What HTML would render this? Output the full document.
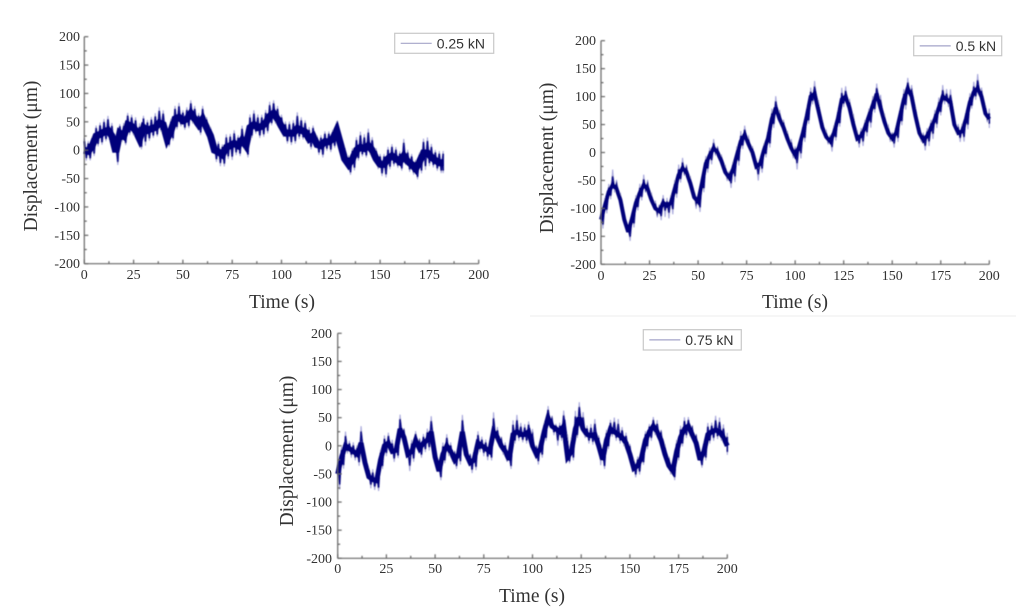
<!DOCTYPE html>
<html lang="en">
<head>
<meta charset="utf-8">
<title>Displacement vs Time</title>
<style>
html,body{margin:0;padding:0;background:#fff;width:1024px;height:612px;overflow:hidden}
svg{display:block;position:absolute;left:0;top:0}
text{font-family:"Liberation Serif",serif;fill:#333}
.legend-text{font-family:"Liberation Sans",sans-serif;font-size:14px;fill:#333}
</style>
</head>
<body>
<svg id="figure" width="1024" height="612" viewBox="0 0 1024 612" xmlns="http://www.w3.org/2000/svg">
<defs><filter id="soft" x="-5%" y="-5%" width="110%" height="110%"><feGaussianBlur stdDeviation="0.45"/></filter></defs>
<line x1="530" y1="316" x2="1016" y2="316" stroke="#f1f1f1" stroke-width="1.2"/>
</svg>
<script>
const yTicks = [200,150,100,50,0,-50,-100,-150,-200];
const yMinorTicks = [175,125,75,25,-25,-75,-125,-175];
const xTicks = [0,25,50,75,100,125,150,175,200];
const xMinorTicks = [12.5,37.5,62.5,87.5,112.5,137.5,162.5,187.5];
const sampleStepSeconds = 2;

const mid025 = [0,-2,8,25,28,32,35,25,-3,30,
25,45,42,35,20,40,35,38,40,48,
45,20,35,55,58,52,55,65,55,45,
55,40,25,0,-3,-8,5,8,12,8,
18,8,40,45,40,42,48,60,65,55,
42,30,30,30,38,35,32,20,25,10,
8,15,15,20,35,10,-15,-25,-15,0,
5,3,8,0,-15,-25,-25,-15,-10,-15,
-20,-10,-20,-25,-33,-20,-5,-5,-12,-18,
-22,-22];
const up025 = [18,16,14,16,18,20,22,20,18,14,
20,18,18,20,24,18,16,18,22,24,
22,12,18,20,22,16,18,20,20,18,
20,16,14,16,16,16,20,18,20,16,
22,14,20,22,20,18,20,22,20,20,
18,18,18,20,25,20,18,18,16,14,
16,16,16,14,14,16,18,14,16,20,
24,22,26,20,16,16,16,18,18,18,
16,26,18,16,14,14,22,24,20,16,
18,18];
const down025 = [16,14,16,16,16,14,16,18,20,14,
14,16,14,16,16,28,16,14,14,14,
16,12,16,16,14,14,14,16,14,16,
16,14,16,18,22,18,18,22,18,16,
14,18,16,14,16,16,16,14,16,16,
16,16,18,16,16,14,16,16,16,16,
18,14,16,14,16,14,12,16,18,16,
14,14,14,14,16,18,20,16,16,14,
14,14,16,16,16,18,26,20,16,16,
16,16];

const mid05 = [-120,-95,-70,-58,-65,-85,-120,-142,-118,-90,
-72,-58,-65,-85,-100,-105,-90,-95,-90,-65,
-40,-28,-35,-55,-80,-88,-55,-20,-5,8,
0,-15,-35,-45,-30,-5,20,32,15,0,
-25,-20,5,25,60,80,60,45,25,8,
-5,10,35,65,100,105,75,45,28,20,
35,60,95,100,80,50,25,30,45,65,
85,105,80,55,35,25,35,65,95,115,
100,65,35,22,30,45,60,80,100,95,
90,50,35,38,60,90,108,115,100,70,
60];
const up05 = [12,12,12,24,14,10,10,10,10,12,
14,16,14,10,12,10,12,12,12,14,
16,16,12,10,10,10,10,12,12,14,
10,10,10,10,12,14,16,14,12,10,
10,10,10,14,16,18,14,12,12,14,
14,8,12,14,14,20,16,12,10,10,
12,14,18,16,14,16,12,12,12,12,
14,16,20,12,12,10,12,12,16,16,
18,14,12,12,12,12,14,16,18,16,
20,12,14,12,12,14,16,22,14,12,
16];
const down05 = [14,12,12,12,12,12,14,14,14,12,
12,12,14,12,14,14,22,20,18,14,
12,12,12,14,18,16,14,14,14,12,
12,12,14,16,20,16,12,10,14,18,
22,14,12,14,14,12,12,14,14,16,
22,18,14,12,12,10,12,12,12,16,
12,12,12,14,12,14,14,16,14,18,
12,12,12,12,14,14,14,14,16,14,
14,12,14,16,16,18,14,12,12,12,
14,14,14,16,16,10,12,12,14,14,
14];

const mid075 = [-50,-20,0,-5,-10,-15,5,-30,-55,-60,
-62,-25,0,5,-10,-8,30,15,-15,-10,
10,-5,5,10,25,-20,-45,-15,0,-10,
-25,-15,25,-15,-30,-25,5,0,-5,-10,
25,15,0,-10,-25,20,25,20,20,25,
0,-15,-5,25,50,35,30,25,35,-20,
-10,30,50,30,20,18,20,0,-25,10,
30,25,20,15,5,-15,-40,-35,-20,10,
25,35,25,10,-15,-35,-45,-10,15,30,
35,20,5,-25,-10,20,25,28,25,15,
0];
const up075 = [16,16,22,12,14,14,26,14,14,16,
14,16,16,16,18,16,22,14,12,18,
14,16,14,18,24,14,14,18,18,14,
14,14,26,14,14,16,18,14,14,16,
30,16,14,14,14,22,26,18,16,16,
26,14,16,14,18,16,8,14,24,34,
22,28,24,26,14,18,24,16,20,16,
14,22,24,16,16,16,14,14,14,14,
12,14,18,16,14,14,14,18,18,18,
14,14,14,14,16,18,14,22,22,20,
20];
const down075 = [24,18,12,14,14,18,14,16,18,16,
16,14,16,12,16,12,14,16,26,16,
14,14,14,16,14,16,14,14,16,16,
14,16,16,14,16,16,14,16,18,14,
12,14,14,16,14,14,14,12,14,14,
12,16,14,14,14,14,26,14,10,10,
14,14,14,14,14,14,12,30,14,14,
12,14,14,14,14,16,14,14,12,14,
14,14,14,14,14,14,14,14,14,14,
16,14,14,12,14,14,14,14,14,14,
14];

const svgNS = 'http://www.w3.org/2000/svg';
const figure = document.getElementById('figure');

function make(tag, attrs, parent, text) {
  const el = document.createElementNS(svgNS, tag);
  for (const k in attrs) el.setAttribute(k, attrs[k]);
  if (text !== undefined) el.textContent = text;
  parent.appendChild(el);
  return el;
}

function zigzag(mid, up, down, scale, xFn, yFn) {
  const pts = [];
  for (let i = 0; i < mid.length; i++) {
    const t = i * sampleStepSeconds;
    pts.push(xFn(t) + ',' + yFn(mid[i] + up[i] * scale));
    if (i < mid.length - 1) pts.push(xFn(t + sampleStepSeconds / 2) + ',' + yFn(mid[i] - down[i] * scale));
    else pts.push(xFn(t) + ',' + yFn(mid[i] - down[i] * scale));
  }
  return pts.join(' ');
}

function drawChart(p) {
  const g = make('g', {}, figure);
  
  
  const xFn = v => +(p.x0 + (v / 200) * (p.x1 - p.x0)).toFixed(2);
  const yFn = v => +(p.y1 - ((v + 200) / 400) * (p.y1 - p.y0)).toFixed(2);

  const series = make('g', {filter: 'url(#soft)'}, g);
  
  
  make('polyline', {points: zigzag(p.mid, p.up, p.down, 1.15, xFn, yFn), fill: 'none', stroke: '#a8a8dc', 'stroke-width': 1.1}, series);
  make('polyline', {points: zigzag(p.mid, p.up, p.down, p.coreScale, xFn, yFn), fill: 'none', stroke: '#0a0a85', 'stroke-width': 1.6}, series);
  const midPts = p.mid.map((m, i) => xFn(i * sampleStepSeconds) + ',' + yFn(m)).join(' ');
  make('polyline', {points: midPts, fill: 'none', stroke: '#00007a', 'stroke-width': p.coreWidth, 'stroke-linejoin': 'miter', 'stroke-miterlimit': 3}, series);

  const axes = make('g', {stroke: '#666', 'stroke-width': 1.2, filter: 'url(#soft)'}, g);
  
  
  make('line', {x1: p.x0, y1: p.y0, x2: p.x0, y2: p.y1}, axes);
  make('line', {x1: p.x0, y1: p.y1, x2: p.x1, y2: p.y1}, axes);
  yTicks.forEach(v => {
    make('line', {x1: p.x0, x2: p.x0 + 4, y1: yFn(v), y2: yFn(v)}, axes);
    const t = make('text', {x: p.yLabelX, y: yFn(v) + 4.5, 'text-anchor': 'end', 'font-size': 14}, g, String(v));
    
    
  });
  yMinorTicks.forEach(v => make('line', {x1: p.x0, x2: p.x0 + 2.5, y1: yFn(v), y2: yFn(v)}, axes));
  xTicks.forEach(v => {
    make('line', {x1: xFn(v), x2: xFn(v), y1: p.y1, y2: p.y1 - 4}, axes);
    const t = make('text', {x: xFn(v), y: p.xLabelY, 'text-anchor': 'middle', 'font-size': 14}, g, String(v));
    
    
  });
  xMinorTicks.forEach(v => make('line', {x1: xFn(v), x2: xFn(v), y1: p.y1, y2: p.y1 - 2.5}, axes));

  const xTitle = make('text', {x: p.xTitleX, y: p.xTitleY, 'text-anchor': 'middle', 'font-size': 19.5}, g, 'Time (s)');
  
  
  const yTitle = make('text', {transform: 'translate(' + p.yTitleX + ',' + p.yTitleY + ') rotate(-90)', 'text-anchor': 'middle', 'font-size': 19.5}, g, 'Displacement (\u03bcm)');
  
  

  const legend = make('g', {}, g);
  
  
  make('rect', {x: p.lx, y: p.ly, width: p.lw, height: p.lh, fill: '#fff', stroke: '#c8c8c8', 'stroke-width': 1.2}, legend);
  make('line', {x1: p.lx + 6, x2: p.lx + 37, y1: p.ly + p.lh / 2, y2: p.ly + p.lh / 2, stroke: '#a4a4c8', 'stroke-width': 1.2}, legend);
  make('text', {x: p.lx + 42, y: p.ly + p.lh / 2 + 5, class: 'legend-text'}, legend, p.label);
}

drawChart({name: 'chart-0-25-kn', label: '0.25 kN', mid: mid025, up: up025, down: down025, coreScale: 0.9, coreWidth: 7,
  x0: 84.3, x1: 478.7, y0: 36.7, y1: 263.7, yLabelX: 80, xLabelY: 279, xTitleX: 282, xTitleY: 308, yTitleX: 37, yTitleY: 156,
  lx: 394.7, ly: 33.3, lw: 99, lh: 20});
drawChart({name: 'chart-0-5-kn', label: '0.5 kN', mid: mid05, up: up05, down: down05, coreScale: 0.65, coreWidth: 4,
  x0: 601, x1: 989.3, y0: 40.7, y1: 264.3, yLabelX: 596, xLabelY: 280, xTitleX: 795, xTitleY: 308, yTitleX: 553, yTitleY: 158,
  lx: 913.7, ly: 36, lw: 88, lh: 19.7});
drawChart({name: 'chart-0-75-kn', label: '0.75 kN', mid: mid075, up: up075, down: down075, coreScale: 0.8, coreWidth: 5,
  x0: 337.7, x1: 727.3, y0: 333.3, y1: 558.3, yLabelX: 332, xLabelY: 573, xTitleX: 532, xTitleY: 602, yTitleX: 293, yTitleY: 451,
  lx: 643.3, ly: 329.7, lw: 98, lh: 20.3});
</script>
</body>
</html>
